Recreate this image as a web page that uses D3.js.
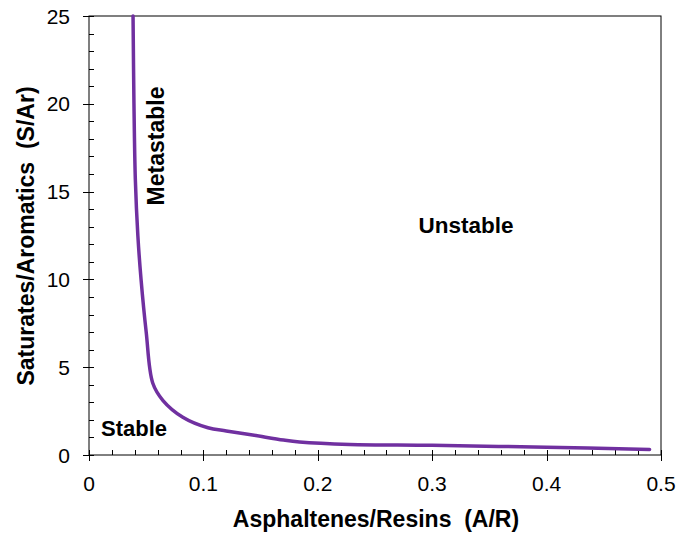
<!DOCTYPE html>
<html><head><meta charset="utf-8">
<script src="https://cdn.jsdelivr.net/npm/d3@7"></script>
<style>body{margin:0;background:#fff}svg{display:block}text{font-family:"Liberation Sans",Arial,sans-serif;fill:#000}</style>
</head><body><svg id="c" width="681" height="534"></svg>
<script>
const arValues = [0.0385, 0.0393, 0.0405, 0.0427, 0.0455, 0.0500, 0.0557, 0.0647, 0.082, 0.104, 0.120, 0.143, 0.170, 0.184, 0.228, 0.30, 0.40, 0.49];
const sarValues = [25, 20, 15.7, 12.5, 10.0, 7.0, 4.1, 3.1, 2.15, 1.55, 1.37, 1.14, 0.85, 0.74, 0.6, 0.55, 0.44, 0.32];
const xTicks = [0, 0.1, 0.2, 0.3, 0.4, 0.5];
const xTickLabels = ["0", "0.1", "0.2", "0.3", "0.4", "0.5"];
const yTicks = [0, 5, 10, 15, 20, 25];
const regionLabels = ["Stable", "Metastable", "Unstable"];

const svg = d3.select("#c");
const L = 89, R = 661, T = 16, B = 455;
const x = d3.scaleLinear().domain([0, 0.5]).range([L, R]);
const y = d3.scaleLinear().domain([0, 25]).range([B, T]);

svg.append("rect").attr("x", L).attr("y", T).attr("width", R - L).attr("height", B - T)
  .attr("fill", "none").attr("stroke", "#000").attr("stroke-width", 1);

const xMinor = d3.range(0, 0.5001, 0.02).filter(v => Math.abs(v * 10 - Math.round(v * 10)) > 1e-6);
svg.append("g").selectAll("line").data(xMinor).join("line")
  .attr("x1", d => Math.round(x(d)) + 0.5).attr("x2", d => Math.round(x(d)) + 0.5)
  .attr("y1", B - 5).attr("y2", B).attr("stroke", "#000");
const yMinor = d3.range(0, 25.001, 1).filter(v => v % 5 !== 0);
svg.append("g").selectAll("line").data(yMinor).join("line")
  .attr("y1", d => Math.round(y(d)) + 0.5).attr("y2", d => Math.round(y(d)) + 0.5)
  .attr("x1", L).attr("x2", L + 5).attr("stroke", "#000");
svg.append("g").selectAll("line").data(xTicks).join("line")
  .attr("x1", d => Math.round(x(d)) + 0.5).attr("x2", d => Math.round(x(d)) + 0.5)
  .attr("y1", B - 5).attr("y2", B + 6).attr("stroke", "#000");
svg.append("g").selectAll("line").data(yTicks).join("line")
  .attr("y1", d => Math.round(y(d)) + 0.5).attr("y2", d => Math.round(y(d)) + 0.5)
  .attr("x1", L - 6).attr("x2", L + 5).attr("stroke", "#000");

svg.append("g").selectAll("text").data(xTicks).join("text")
  .attr("x", d => x(d)).attr("y", 491).attr("text-anchor", "middle")
  .style("font-size", "21px").text((d, i) => xTickLabels[i]);
svg.append("g").selectAll("text").data(yTicks).join("text")
  .attr("x", 70).attr("y", d => y(d) + 7.5).attr("text-anchor", "end")
  .style("font-size", "21px").text(d => d);

svg.append("text").attr("x", 376).attr("y", 527).attr("text-anchor", "middle")
  .style("font-size", "23px").style("font-weight", "bold").attr("xml:space", "preserve")
  .text("Asphaltenes/Resins  (A/R)");
svg.append("text").attr("transform", "translate(34,236) rotate(-90)").attr("text-anchor", "middle")
  .style("font-size", "23px").style("font-weight", "bold").attr("xml:space", "preserve")
  .text("Saturates/Aromatics  (S/Ar)");

const pts = arValues.map((a, i) => [a, sarValues[i]]);
svg.append("path").datum(pts)
  .attr("d", d3.line().x(d => x(d[0])).y(d => y(d[1])).curve(d3.curveCatmullRom.alpha(0.5)))
  .attr("fill", "none").attr("stroke", "#7030A0").attr("stroke-width", 3.5).attr("stroke-linecap", "round");

svg.append("text").attr("x", 101).attr("y", 436)
  .style("font-size", "22px").style("font-weight", "bold").text(regionLabels[0]);
svg.append("text").attr("transform", "translate(164,146) rotate(-90)").attr("text-anchor", "middle")
  .style("font-size", "23px").style("font-weight", "bold").text(regionLabels[1]);
svg.append("text").attr("x", 466).attr("y", 233).attr("text-anchor", "middle")
  .style("font-size", "22.5px").style("font-weight", "bold").text(regionLabels[2]);
</script></body></html>
